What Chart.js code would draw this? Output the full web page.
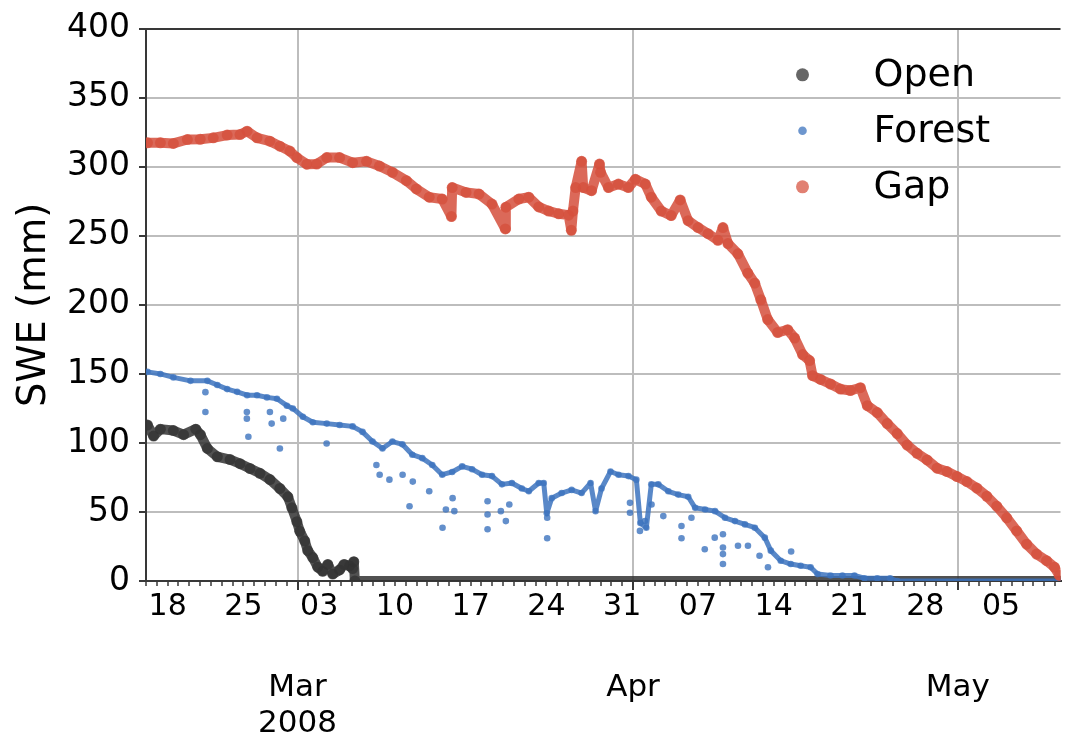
<!DOCTYPE html>
<html>
<head>
<meta charset="utf-8">
<title>SWE 2008</title>
<script src="https://cdn.jsdelivr.net/npm/chart.js@4.4.1/dist/chart.umd.min.js"></script>
<style>
  html, body { margin: 0; padding: 0; background: #fff; }
  #wrap { width: 1066px; height: 741px; }
</style>
</head>
<body>
<div id="wrap"><canvas id="chart" width="1066" height="741"></canvas></div>
<script>
// x values are days counted from 1 Mar 2008 (0 = Mar 1, 31 = Apr 1, 61 = May 1)
const xMin = -14;
const xMax = 70.5;

const weekTickDays = [-12, -5, 2, 9, 16, 23, 30, 37, 44, 51, 58, 65];
const weekTickLabels = ['18', '25', '03', '10', '17', '24', '31', '07', '14', '21', '28', '05'];
const monthTickDays = [0, 31, 61];
const monthTickLabels = [['Mar', '2008'], 'Apr', 'May'];
const sweTicks = [0, 50, 100, 150, 200, 250, 300, 350, 400];

const openDay = [-13.87, -13.3, -12.67, -11.47, -10.53, -9.4, -8.97, -8.33, -7.41, -6.23, -5.31, -4.39,
  -3.47, -2.55, -1.63, -0.89, -0.52, -0.06, 0.21, 0.67, 0.95, 1.41, 1.87, 2.33, 2.8, 3.25, 3.89,
  4.3, 4.81, 5.09, 5.2, 5.3, 70.4];
const openSwe = [113, 105, 110, 109, 106, 110, 106, 96, 90, 88, 85, 81.5,
  78, 73.5, 67, 61, 53, 43, 36, 29, 22, 17, 10, 7, 12, 5, 8,
  12, 11, 9, 14, 0, 0];

const forestDay = [-13.86, -12.67, -11.47, -9.89, -8.33, -7.41, -6.5, -5.58, -4.66, -3.74, -2.82, -1.9,
  -0.98, -0.43, 0.49, 1.41, 2.7, 3.89, 5.09, 6.01, 6.93, 7.85, 8.77, 9.69, 10.61, 11.53, 12.45,
  13.37, 14.29, 15.21, 16.13, 17.05, 17.97, 18.89, 19.81, 20.73, 21.37, 22.29, 22.75, 23.03, 23.49,
  24.41, 25.33, 26.25, 27.08, 27.54, 28.09, 28.92, 29.66, 30.58, 31.31, 31.68, 32.23, 32.69, 33.34,
  34.26, 35.18, 36.1, 36.74, 37.66, 38.58, 39.5, 40.42, 41.34, 42.26, 43.18, 43.73, 44.65, 45.57,
  46.49, 47.41, 48.05, 49.25, 50.35, 51.46, 52.38, 53.57, 54.77, 55.41, 70.4];
const forestSwe = [151.5, 150, 147.5, 145, 145, 142, 139, 137, 134.6, 134.6, 133, 132,
  127, 125, 119, 115, 114, 113, 112, 108, 101, 96, 101, 99, 91.5, 89, 84,
  77, 79, 83, 81, 77, 76, 70, 71, 67, 65, 71, 71, 49, 60,
  63.7, 66, 63.7, 71, 50.6, 67, 79.3, 77, 76, 73.4, 42, 38.6, 70, 70,
  65, 62.6, 61, 53, 51.8, 50.6, 45.8, 43.4, 41, 38.6, 31.4, 22, 14.7, 12.3,
  11, 10, 5, 4, 4, 4, 2, 2, 2, 0, 0];

// scattered low readings of the forest sensor
const forestDipDay = [-8.51, -8.51, -4.68, -4.68, -4.54, -2.55, -2.39, -1.63, -1.32, 2.69, 7.29, 7.59,
  8.49, 9.71, 10.35, 10.65, 12.17, 13.4, 13.71, 14.33, 14.49, 17.56, 17.56, 17.56, 18.79, 19.25,
  19.57, 23.07, 23.07, 30.72, 30.72, 31.64, 32.1, 32.71, 33.8, 35.48, 35.48, 36.4, 37.63, 38.55,
  39.31, 39.31, 39.31, 39.31, 40.7, 41.62, 42.69, 43.47, 45.61];
const forestDipSwe = [136.8, 122.4, 122.4, 117.6, 104.5, 122.4, 114, 96, 117.6, 99.6, 84, 77,
  73.4, 77, 54.2, 72, 65, 38.6, 51.8, 60, 50.6, 48.2, 37.5, 57.8, 50.6, 43.4,
  55.4, 31, 45.8, 56.6, 49.4, 36.3, 43.4, 55.4, 47, 39.8, 31, 45.8, 23, 31.4,
  33.9, 24.3, 12.3, 19.5, 25.5, 25.5, 18.3, 10, 21.4];

const gapDay = [-13.86, -12.67, -11.47, -10.18, -8.99, -7.79, -6.5, -5.31, -4.66, -3.74, -2.55, -1.63,
  -0.71, -0.06, 0.86, 1.78, 2.7, 3.89, 5.09, 6.38, 7.57, 8.77, 10.06, 10.98, 12.17, 13.37, 14.22,
  14.29, 15.57, 16.77, 17.97, 19.2, 19.25, 20.45, 21.37, 22.29, 23.21, 24.13, 25.05, 25.3, 25.45,
  25.7, 26.25, 26.4, 27.17, 27.9, 28, 28.73, 29.65, 30.57, 31.22, 32.14, 32.69, 33.61, 34.53, 35.36,
  36.09, 37.01, 37.93, 38.85, 39.31, 39.77, 40.69, 41.61, 42.25, 42.81, 43.45, 44.37, 45.29, 45.93,
  46.67, 47.31, 47.59, 48.33, 49.25, 50.17, 51.09, 52.01, 52.65, 53.57, 54.49, 55.41, 56.33, 57.25,
  58.17, 59.09, 60.01, 60.93, 61.85, 62.77, 63.69, 64.61, 65.53, 66.45, 67.37, 68.29, 69.21, 69.94, 70.4];
const gapSwe = [317.4, 317.4, 317, 319.8, 320, 321, 323, 323.4, 325.8, 321, 318.6, 315,
  311.4, 306.7, 301.9, 302, 306.7, 306.7, 303, 304, 300.6, 296, 290, 284, 278, 276.7, 264,
  285, 281.5, 280.3, 273, 255, 270.8, 276.7, 278, 271, 268, 266, 265, 254, 268,
  285, 304, 285, 282.7, 302, 296, 285, 287.5, 285, 291, 287.5, 278, 268, 264.7, 276,
  261, 256, 251.6, 246.8, 256, 244.4, 237, 223, 215.7, 203.7, 189.4, 180, 182, 176,
  164, 159.7, 148.7, 146, 142.7, 139, 138, 140, 127, 122, 114, 106.8, 98.5, 92.5,
  87.7, 81.7, 79.3, 75.7, 72, 67.3, 61.4, 54.2, 45.8, 36.3, 26.7, 19.5, 14.7, 10, 4];

const toPoints = (days, values) => days.map((d, i) => ({ x: d, y: values[i] }));

const FONT = 'DejaVu Sans';
const GRID = '#bdbdbd';
const SPINE = '#383838';

// legend drawn inside the plot, top right, without a frame
const insideLegend = {
  id: 'insideLegend',
  afterDraw(chart) {
    const { ctx, chartArea } = chart;
    const items = chart.data.datasets
      .filter((ds) => ds.inLegend)
      .sort((a, b) => a.legendIndex - b.legendIndex);

    ctx.save();
    ctx.font = `38px "${FONT}"`;
    ctx.textBaseline = 'middle';
    items.forEach((ds, i) => {
      const y = chartArea.top + 46 + i * 56;
      ctx.beginPath();
      ctx.arc(chartArea.right - 258, y, ds.legendRadius, 0, Math.PI * 2);
      ctx.fillStyle = ds.legendColor;
      ctx.fill();
      ctx.fillStyle = '#000';
      ctx.fillText(ds.label, chartArea.right - 187, y + 1);
    });
    ctx.restore();
  },
};

// longer tick marks at the start of each month
const monthTicks = {
  id: 'monthTicks',
  afterDraw(chart) {
    const scale = chart.scales.x;
    const { ctx } = chart;

    ctx.save();
    ctx.strokeStyle = SPINE;
    ctx.lineWidth = 2;
    monthTickDays.forEach((d) => {
      const px = Math.round(scale.getPixelForValue(d));
      ctx.beginPath();
      ctx.moveTo(px, scale.top);
      ctx.lineTo(px, scale.top + 9);
      ctx.stroke();
    });
    ctx.restore();
  },
};

new Chart(document.getElementById('chart'), {
  type: 'scatter',
  data: {
    datasets: [
      {
        label: 'Gap',
        data: toPoints(gapDay, gapSwe),
        showLine: true,
        borderColor: 'rgba(213,79,60,0.85)',
        borderWidth: 10,
        backgroundColor: 'rgba(213,79,60,0.75)',
        pointRadius: 5.5,
        pointBorderWidth: 0,
        order: 1,
        inLegend: true,
        legendColor: 'rgba(213,79,60,0.72)',
        legendRadius: 6.5,
        legendIndex: 2,
      },
      {
        label: 'Forest',
        data: toPoints(forestDay, forestSwe),
        showLine: true,
        borderColor: 'rgba(60,115,190,0.85)',
        borderWidth: 5,
        backgroundColor: 'rgba(60,115,190,0.75)',
        pointRadius: 3.3,
        pointBorderWidth: 0,
        order: 2,
        inLegend: true,
        legendColor: 'rgba(60,115,190,0.75)',
        legendRadius: 4.3,
        legendIndex: 1,
      },
      {
        label: 'Forest low',
        data: toPoints(forestDipDay, forestDipSwe),
        showLine: false,
        backgroundColor: 'rgba(60,115,190,0.8)',
        pointRadius: 3.3,
        pointBorderWidth: 0,
        order: 2,
      },
      {
        label: 'Open',
        data: toPoints(openDay, openSwe),
        showLine: true,
        borderColor: 'rgba(51,51,51,0.85)',
        borderWidth: 10,
        backgroundColor: 'rgba(51,51,51,0.75)',
        pointRadius: 5.5,
        pointBorderWidth: 0,
        order: 3,
        inLegend: true,
        legendColor: 'rgba(51,51,51,0.75)',
        legendRadius: 6.5,
        legendIndex: 0,
      },
    ],
  },
  options: {
    responsive: false,
    animation: false,
    devicePixelRatio: 1,
    layout: { padding: { left: 0, top: 22, right: 3, bottom: 0 } },
    plugins: {
      legend: { display: false },
      tooltip: { enabled: false },
    },
    elements: { line: { tension: 0, borderCapStyle: 'round', borderJoinStyle: 'round' } },
    scales: {
      x: {
        type: 'linear',
        position: 'bottom',
        min: xMin,
        max: xMax,
        afterBuildTicks: (scale) => {
          const ticks = [];
          for (let d = Math.ceil(xMin); d <= Math.floor(xMax); d++) {
            ticks.push({ value: d });
          }
          scale.ticks = ticks;
        },
        afterFit: (scale) => {
          scale.height = 45;
        },
        grid: {
          color: (c) => (monthTickDays.includes(c.tick?.value) ? GRID : 'rgba(0,0,0,0)'),
          lineWidth: 2,
          tickColor: SPINE,
          tickWidth: 1.5,
          tickLength: 5,
        },
        border: { display: true, color: SPINE, width: 2 },
        ticks: {
          autoSkip: false,
          maxRotation: 0,
          minRotation: 0,
          padding: 3,
          color: '#000',
          font: { family: FONT, size: 30 },
          callback: (value) => {
            const i = weekTickDays.indexOf(value);
            return i >= 0 ? weekTickLabels[i] : '';
          },
        },
      },
      months: {
        type: 'linear',
        axis: 'x',
        position: 'bottom',
        min: xMin,
        max: xMax,
        afterBuildTicks: (scale) => {
          scale.ticks = monthTickDays.map((d) => ({ value: d }));
        },
        afterFit: (scale) => {
          scale.height = 115;
        },
        grid: { display: false, drawTicks: false },
        border: { display: false },
        ticks: {
          autoSkip: false,
          maxRotation: 0,
          minRotation: 0,
          padding: 44,
          color: '#000',
          font: { family: FONT, size: 31, lineHeight: 1.16 },
          callback: (value) => {
            const i = monthTickDays.indexOf(value);
            return i >= 0 ? monthTickLabels[i] : '';
          },
        },
      },
      y: {
        min: 0,
        max: 400,
        afterBuildTicks: (scale) => {
          scale.ticks = sweTicks.map((v) => ({ value: v }));
        },
        afterFit: (scale) => {
          scale.width = 146;
        },
        grid: {
          color: (c) => (c.tick?.value === 400 ? SPINE : GRID),
          lineWidth: 2,
          tickColor: SPINE,
          tickWidth: 2,
          tickLength: 7,
        },
        border: { display: true, color: SPINE, width: 2 },
        ticks: {
          padding: 9,
          color: '#000',
          font: { family: FONT, size: 33 },
        },
        title: {
          display: true,
          text: 'SWE (mm)',
          color: '#000',
          font: { family: FONT, size: 38.5 },
          padding: { top: 12, bottom: 0 },
        },
      },
    },
  },
  plugins: [monthTicks, insideLegend],
});
</script>
</body>
</html>
